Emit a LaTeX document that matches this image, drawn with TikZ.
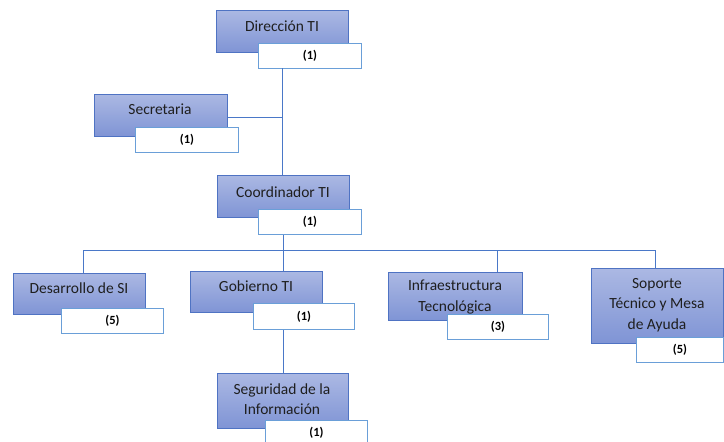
\documentclass[tikz,border=0pt]{standalone}
\usepackage{fontspec}
\setmainfont{Carlito}
\definecolor{boxedge}{HTML}{4F73C3}
\definecolor{boxtop}{HTML}{ABB8E3}
\definecolor{boxbot}{HTML}{7F94D5}
\definecolor{cntedge}{HTML}{6A9FD8}
\definecolor{linecol}{HTML}{4A78C8}
\definecolor{textcol}{HTML}{1F1F1F}
\tikzset{
  unitbox/.style={draw=boxedge, line width=0.9pt, top color=boxtop, bottom color=boxbot, inner sep=0pt, anchor=north west},
  count/.style={draw=cntedge, line width=1pt, fill=white, inner sep=0pt, anchor=north west, text=black, font=\fontsize{12.5}{14}\selectfont\bfseries},
  lbl/.style={font=\fontsize{15.5}{20.5}\selectfont, text=textcol, align=center, inner sep=0pt},
  link/.style={draw=linecol, line width=1pt}
}
\begin{document}
\begin{tikzpicture}[x=1pt,y=-1pt]
\useasboundingbox (0,0) rectangle (724,442);
\coordinate (spineA) at (282,68);
\coordinate (secJ) at (282,117);
\coordinate (busL) at (83,250);
\coordinate (busC) at (283,250);
\coordinate (busR) at (655,250);
% boxes
\node[unitbox, minimum width=132pt, minimum height=42pt] (dir) at (216,10) {};
\node[unitbox, minimum width=133pt, minimum height=42pt] (sec) at (94,94) {};
\node[unitbox, minimum width=132pt, minimum height=42pt] (coo) at (217,175) {};
\node[unitbox, minimum width=132pt, minimum height=41pt] (des) at (13,273) {};
\node[unitbox, minimum width=132pt, minimum height=41pt] (gob) at (190,271) {};
\node[unitbox, minimum width=134pt, minimum height=48pt] (inf) at (388,272) {};
\node[unitbox, minimum width=132pt, minimum height=75pt] (sop) at (591,268) {};
\node[unitbox, minimum width=131pt, minimum height=55pt] (seg) at (217,373) {};
% labels
\node[lbl] (dirT) at (282,26) {Dirección TI};
\node[lbl] (secT) at (160,109) {Secretaria};
\node[lbl] (cooT) at (283,192) {Coordinador TI};
\node[lbl] (desT) at (79,288) {Desarrollo de SI};
\node[lbl] (gobT) at (256,286) {Gobierno TI};
\node[lbl] (infT) at (455,297) {Infraestructura\\Tecnológica};
\node[lbl] (sopT) at (657,305) {Soporte\\Técnico y Mesa\\de Ayuda};
\node[lbl] (segT) at (282,399) {Seguridad de la\\Información};
% count boxes
\node[count, minimum width=103pt, minimum height=25pt] (dirN) at (258,43) {(1)};
\node[count, minimum width=103pt, minimum height=25pt] (secN) at (135,127) {(1)};
\node[count, minimum width=103pt, minimum height=25pt] (cooN) at (258,209) {(1)};
\node[count, minimum width=102pt, minimum height=25pt] (desN) at (61,308) {(5)};
\node[count, minimum width=101pt, minimum height=26pt] (gobN) at (253,303) {(1)};
\node[count, minimum width=101pt, minimum height=25pt] (infN) at (447,314) {(3)};
\node[count, minimum width=87pt, minimum height=25pt] (sopN) at (636,337) {(5)};
\node[count, minimum width=102pt, minimum height=25pt] (segN) at (265,420) {(1)};
% connectors
\draw[link] (spineA) -- (spineA |- coo.north);
\draw[link] (sec.east |- secJ) -- (secJ);
\draw[link] (cooN.south -| busC) -- (busC);
\draw[link] (busL) -- (busR);
\draw[link] (busL) -- (busL |- des.north);
\draw[link] (busC) -- (busC |- gob.north);
\draw[link] (busR) -- (busR |- sop.north);
\draw[link] (busL -| 497,0) -- (497,0 |- inf.north);
\draw[link] (gobN.south -| busC) -- (busC |- seg.north);
\end{tikzpicture}
\end{document}
